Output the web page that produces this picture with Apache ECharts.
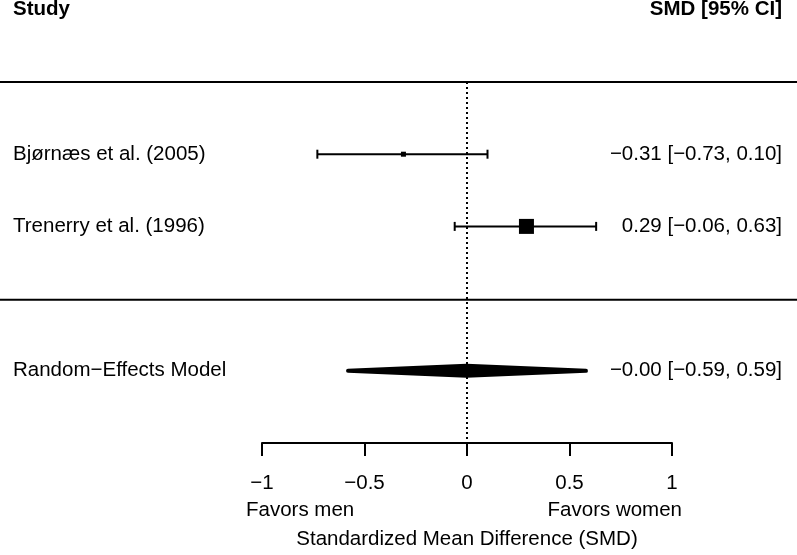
<!DOCTYPE html>
<html><head><meta charset="utf-8">
<script src="https://cdn.jsdelivr.net/npm/echarts@6/dist/echarts.min.js"></script>
<style>html,body{margin:0;padding:0;background:#fff}#c{width:797px;height:555px}</style>
</head><body><div id="c"></div>
<script>
// ---- data ----
const studies = ['Bjørnæs et al. (2005)', 'Trenerry et al. (1996)'];
const estimates = [-0.31, 0.29];
const ciLower = [-0.73, -0.06];
const ciUpper = [0.10, 0.63];
const weights = [48.1, 51.9];           // RE weights (%), drive square size
const modelLabel = 'Random\u2212Effects Model';
const modelEst = -0.002;
const modelLower = -0.59;
const modelUpper = 0.59;
const xTicks = [-1, -0.5, 0, 0.5, 1];
const xTickLabels = ['\u22121', '\u22120.5', '0', '0.5', '1'];
const headerLeft = 'Study';
const headerRight = 'SMD [95% CI]';
const xTitle = 'Standardized Mean Difference (SMD)';
const favorLeft = 'Favors men';
const favorRight = 'Favors women';

// ---- helpers ----
const FONT = '"Liberation Sans", Arial, sans-serif';
const FS = 20.5;
const fmt = v => (v < 0 ? '\u2212' : '') + Math.abs(v).toFixed(2);
const ciText = (e, l, u) => fmt(e) + ' [' + fmt(l) + ', ' + fmt(u) + ']';
const studyRows = studies.map((s, i) => i + 1);
const sepRow = studies.length + 1;
const modelRow = studies.length + 2;
const lastRow = studies.length + 3;
const leftLabels = {}, rightLabels = {};
studies.forEach((s, i) => { leftLabels[studyRows[i]] = s; rightLabels[studyRows[i]] = ciText(estimates[i], ciLower[i], ciUpper[i]); });
leftLabels[modelRow] = modelLabel;
rightLabels[modelRow] = ciText(modelEst, modelLower, modelUpper);
const wMin = Math.min(...weights), wMax = Math.max(...weights);
const psize = w => (wMax === wMin ? 1 : (w - wMin) / (wMax - wMin)) * 10 + 5;
const studyData = studies.map((s, i) => [studyRows[i], estimates[i], ciLower[i], ciUpper[i], psize(weights[i])]);

const black = '#000';
const chart = echarts.init(document.getElementById('c'), null, {renderer: 'canvas'});
chart.setOption({
  animation: false,
  backgroundColor: '#fff',
  textStyle: {fontFamily: FONT},
  grid: [
    {left: 262, right: 125, top: 82, height: 363},
    {left: 0, right: 0, top: 82, height: 363}
  ],
  xAxis: [
    {
      gridIndex: 0, type: 'value', min: -1, max: 1, interval: 0.5, position: 'bottom',
      axisLine: {show: true, onZero: false, lineStyle: {color: black, width: 2}},
      axisTick: {show: true, length: 13, lineStyle: {color: black, width: 2}},
      splitLine: {show: false},
      axisLabel: {margin: 30, fontSize: FS, color: black, fontFamily: FONT,
        formatter: v => { const k = xTicks.findIndex(t => Math.abs(t - v) < 1e-9); return k >= 0 ? xTickLabels[k] : ''; }},
      name: xTitle, nameLocation: 'middle', nameGap: 86,
      nameTextStyle: {fontSize: FS, color: black, fontFamily: FONT}
    },
    {gridIndex: 1, type: 'value', min: 0, max: 1, show: false}
  ],
  yAxis: [
    {
      gridIndex: 0, type: 'value', min: 0, max: lastRow, interval: 1, inverse: true, position: 'left',
      axisLine: {show: false, onZero: false}, axisTick: {show: false}, splitLine: {show: false},
      axisLabel: {align: 'left', margin: 249, fontSize: FS, color: black, fontFamily: FONT,
        formatter: v => leftLabels[v] || ''}
    },
    {
      gridIndex: 0, type: 'value', min: 0, max: lastRow, interval: 1, inverse: true, position: 'right',
      axisLine: {show: false, onZero: false}, axisTick: {show: false}, splitLine: {show: false},
      axisLabel: {align: 'right', margin: 110, fontSize: FS, color: black, fontFamily: FONT,
        formatter: v => rightLabels[v] || ''}
    },
    {gridIndex: 1, type: 'value', min: 0, max: lastRow, inverse: true, show: false}
  ],
  series: [
    {
      type: 'line', xAxisIndex: 1, yAxisIndex: 2, symbol: 'none', silent: true,
      lineStyle: {color: black, width: 2}, data: [[0, 0], [1, 0]]
    },
    {
      type: 'line', xAxisIndex: 1, yAxisIndex: 2, symbol: 'none', silent: true,
      lineStyle: {color: black, width: 2}, data: [[0, sepRow], [1, sepRow]]
    },
    {
      type: 'line', xAxisIndex: 0, yAxisIndex: 0, symbol: 'none', silent: true, data: [],
      markLine: {silent: true, symbol: 'none', label: {show: false},
        lineStyle: {color: black, width: 2, type: [2, 3]}, data: [{xAxis: 0}]}
    },
    {
      type: 'custom', xAxisIndex: 0, yAxisIndex: 0, silent: true,
      encode: {x: [1, 2, 3], y: 0},
      data: studyData,
      renderItem: (params, api) => {
        const y = api.value(0), e = api.value(1), lo = api.value(2), hi = api.value(3), sz = api.value(4);
        const pL = api.coord([lo, y]), pH = api.coord([hi, y]), pE = api.coord([e, y]);
        const cap = 4.5, st = {stroke: black, lineWidth: 2};
        return {type: 'group', children: [
          {type: 'line', shape: {x1: pL[0], y1: pL[1], x2: pH[0], y2: pH[1]}, style: st},
          {type: 'line', shape: {x1: pL[0], y1: pL[1] - cap, x2: pL[0], y2: pL[1] + cap}, style: st},
          {type: 'line', shape: {x1: pH[0], y1: pH[1] - cap, x2: pH[0], y2: pH[1] + cap}, style: st},
          {type: 'rect', shape: {x: pE[0] - sz / 2, y: pE[1] - sz / 2, width: sz, height: sz}, style: {fill: black}}
        ]};
      }
    },
    {
      type: 'custom', xAxisIndex: 0, yAxisIndex: 0, silent: true,
      encode: {x: [1, 2, 3], y: 0},
      data: [[modelRow, modelEst, modelLower, modelUpper]],
      renderItem: (params, api) => {
        const y = api.value(0);
        const pL = api.coord([api.value(2), y]), pH = api.coord([api.value(3), y]), pE = api.coord([api.value(1), y]);
        const h = 5, lw = 4;
        return {type: 'polygon', shape: {points: [[pL[0] + lw / 2, pL[1]], [pE[0], pE[1] - h], [pH[0] - lw / 2, pH[1]], [pE[0], pE[1] + h]]},
          style: {fill: black, stroke: black, lineWidth: lw, lineJoin: 'round'}};
      }
    }
  ],
  graphic: [
    {type: 'text', left: 13, top: -1, style: {text: headerLeft, font: 'bold ' + FS + 'px ' + FONT, fill: black}},
    {type: 'text', right: 15, top: -1, style: {text: headerRight, font: 'bold ' + FS + 'px ' + FONT, fill: black}},
    {type: 'text', left: 246, top: 500, style: {text: favorLeft, font: FS + 'px ' + FONT, fill: black}},
    {type: 'text', right: 115, top: 500, style: {text: favorRight, font: FS + 'px ' + FONT, fill: black}}
  ]
});
</script>
</body></html>
